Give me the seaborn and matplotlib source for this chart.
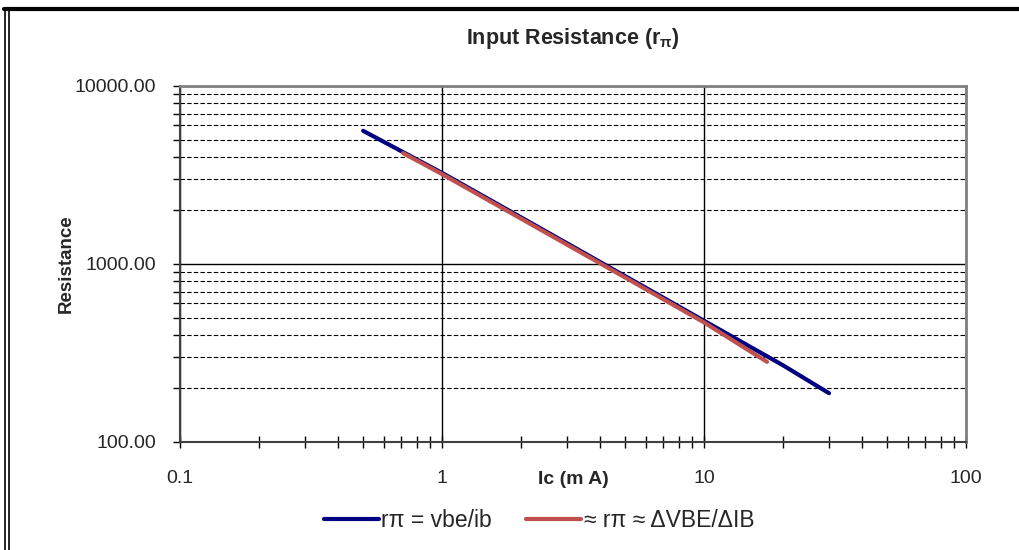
import numpy as np
import pandas as pd
import matplotlib
matplotlib.use("Agg")
import matplotlib.pyplot as plt
import matplotlib.ticker as mticker
from matplotlib.lines import Line2D
import seaborn as sns

# Values (log-log)
ic_exact = [0.5, 1, 2, 5, 10, 20, 30]
r_exact = [5600, 3250, 1830, 855, 480, 270, 188]

ic_approx = [0.71, 1, 2, 5, 10, 17.4]
r_approx = [4200, 3200, 1800, 840, 470, 282]

series_names = ["rπ = vbe/ib", "≈ rπ ≈ ΔVBE/ΔIB"]
series_colors = ["#000080", "#C0504D"]

x_ticks = [0.1, 1, 10, 100]
y_ticks = [100, 1000, 10000]

df = pd.concat([
    pd.DataFrame({"Ic": ic_exact, "R": r_exact, "series": series_names[0]}),
    pd.DataFrame({"Ic": ic_approx, "R": r_approx, "series": series_names[1]}),
])

sns.set_style("white")
plt.rcParams["font.family"] = ["Liberation Sans", "DejaVu Sans"]
plt.rcParams["mathtext.fontset"] = "custom"
plt.rcParams["mathtext.rm"] = "Liberation Sans:bold"
plt.rcParams["mathtext.it"] = "Liberation Sans:bold"

fig = plt.figure(figsize=(10.19, 5.5), dpi=100)
ax = fig.add_axes([180 / 1019, 1 - 442 / 550, (966 - 180) / 1019, (442 - 86) / 550])

ax.set_xscale("log")
ax.set_yscale("log")
ax.set_xlim(0.1, 100)
ax.set_ylim(100, 10000)

# grid: solid majors, dashed horizontal minors
ax.yaxis.set_minor_locator(mticker.LogLocator(base=10, subs=np.arange(2, 10)))
ax.xaxis.set_minor_locator(mticker.LogLocator(base=10, subs=np.arange(2, 10)))
ax.grid(True, which="major", axis="both", color="black", lw=1.0, ls="-")
ax.grid(True, which="minor", axis="y", color="black", lw=0.8, ls=(0, (4, 2)))
ax.set_axisbelow(True)

sns.lineplot(data=df, x="Ic", y="R", hue="series", palette=series_colors,
             hue_order=series_names, lw=3.0, ax=ax, legend=False, sort=False,
             estimator=None)

ax.xaxis.set_major_formatter(mticker.FuncFormatter(lambda v, p: f"{v:g}"))
ax.yaxis.set_major_formatter(mticker.FuncFormatter(lambda v, p: f"{v:.2f}"))
ax.xaxis.set_minor_formatter(mticker.NullFormatter())
ax.yaxis.set_minor_formatter(mticker.NullFormatter())
ax.set_xticks(x_ticks)
ax.set_yticks(y_ticks)

ax.tick_params(axis="x", which="both", direction="inout", length=8, width=1,
               color="black", labelsize=14, pad=16)
ax.tick_params(axis="y", which="both", direction="out", length=5, width=1,
               color="black", labelsize=14, pad=12, left=True)
ax.tick_params(axis="x", which="both", bottom=True)

for side in ["left", "bottom"]:
    ax.spines[side].set_color("#404040")
    ax.spines[side].set_linewidth(1.5)
for side in ["top", "right"]:
    ax.spines[side].set_color("#808080")
    ax.spines[side].set_linewidth(2)

ax.set_title(r"Input Resistance (r$_{\pi}$)", fontsize=15.5, fontweight="bold", pad=30)
ax.set_xlabel("Ic (m A)", fontsize=14, fontweight="bold")
ax.xaxis.set_label_coords(0.5, -0.082)
ax.set_ylabel("Resistance", fontsize=13.5, fontweight="bold")
ax.yaxis.set_label_coords(-0.134, 0.5)

handles = [Line2D([], [], color=c, lw=3.0) for c in series_colors]
ax.legend(handles, series_names, loc="center", bbox_to_anchor=(0.457, -0.22),
          ncol=2, frameon=False, fontsize=16.5, handlelength=2.4, handletextpad=0.1,
          columnspacing=1.5)

# outer frame of the original chart image
fig.add_artist(Line2D([0.004, 1], [1 - 8.5 / 550, 1 - 8.5 / 550], color="black", lw=3))
fig.add_artist(Line2D([5 / 1019, 5 / 1019], [0, 1 - 8.5 / 550], color="black", lw=1.2))
fig.add_artist(Line2D([8.5 / 1019, 8.5 / 1019], [0, 1 - 10 / 550], color="black", lw=1.2))

fig.savefig("out.png", dpi=100)
